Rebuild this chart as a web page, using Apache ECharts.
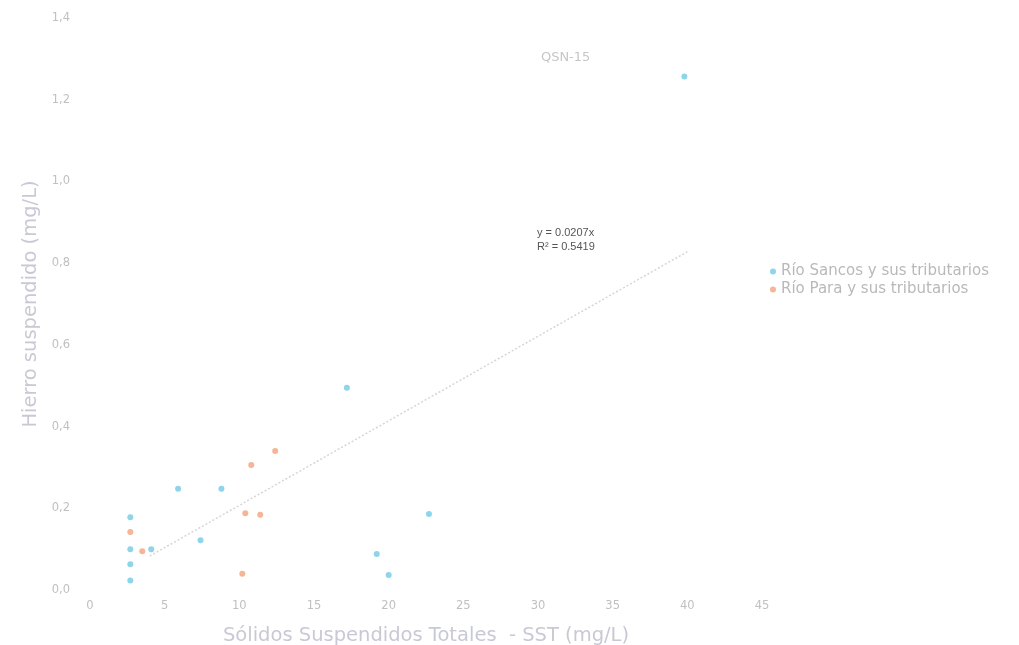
<!DOCTYPE html>
<html>
<head>
<meta charset="utf-8">
<script src="https://cdn.jsdelivr.net/npm/echarts@6/dist/echarts.min.js"></script>
<style>
html,body{margin:0;padding:0;background:#fff;}
#chart{width:1019px;height:645px;}
</style>
</head>
<body>
<div id="chart"></div>
<script>
// Río Sancos y sus tributarios
var sancosX = [2.7, 2.7, 2.7, 2.7, 4.1, 5.9, 7.4, 8.8, 17.2, 19.2, 20.0, 22.7, 39.8];
var sancosY = [0.178, 0.100, 0.063, 0.023, 0.100, 0.248, 0.122, 0.248, 0.495, 0.088, 0.037, 0.186, 1.257];
// Río Para y sus tributarios
var paraX = [2.7, 3.5, 10.2, 10.4, 10.8, 11.4, 12.4];
var paraY = [0.142, 0.095, 0.040, 0.188, 0.306, 0.184, 0.340];
// línea de tendencia y = 0.0207x
var trendX = [4, 40];
var trendY = [0.083, 0.828];
var xTicks = [0, 5, 10, 15, 20, 25, 30, 35, 40, 45];
var yTicks = [0, 0.2, 0.4, 0.6, 0.8, 1.0, 1.2, 1.4];
var labelPointName = 'QSN-15';

function pairs(xs, ys){
	var out = [];
	for (var i = 0; i < xs.length; i++) out.push([xs[i], ys[i]]);
	return out;
}

var sancosData = pairs(sancosX, sancosY);
// el punto más alto lleva su etiqueta
var last = sancosData.length - 1;
sancosData[last] = {
	value: sancosData[last],
	label: {
		show: true,
		formatter: labelPointName,
		position: 'left',
		offset: [-86, -19],
		color: '#b8b8b8',
		fontSize: 13,
		fontFamily: 'DejaVu Sans'
	}
};

var myChart = echarts.init(document.getElementById('chart'));
var option = {
	backgroundColor: '#ffffff',
	animation: false,
	textStyle: { fontFamily: 'DejaVu Sans' },
	grid: { left: 90, right: 257, top: 18, bottom: 55, containLabel: false, outerBoundsMode: 'none' },
	legend: {
		orient: 'vertical',
		left: 765,
		top: 259,
		itemWidth: 6,
		itemHeight: 6,
		itemGap: 3,
		icon: 'circle',
		textStyle: { color: '#b9b9b9', fontSize: 15, fontFamily: 'DejaVu Sans' },
		data: ['Río Sancos y sus tributarios', 'Río Para y sus tributarios']
	},
	xAxis: {
		type: 'value',
		min: xTicks[0],
		max: xTicks[xTicks.length - 1],
		interval: 5,
		name: 'Sólidos Suspendidos Totales  - SST (mg/L)',
		nameLocation: 'middle',
		nameGap: 36,
		nameTextStyle: { color: '#c9c9d6', fontSize: 19.5, fontFamily: 'DejaVu Sans' },
		axisLine: { show: false },
		axisTick: { show: false },
		splitLine: { show: false },
		axisLabel: { color: '#c0c0c0', fontSize: 11.5, margin: 10 }
	},
	yAxis: {
		type: 'value',
		min: yTicks[0],
		max: yTicks[yTicks.length - 1],
		interval: 0.2,
		name: 'Hierro suspendido (mg/L)',
		nameLocation: 'middle',
		nameGap: 49,
		nameTextStyle: { color: '#c9c9d6', fontSize: 19.5, fontFamily: 'DejaVu Sans' },
		axisLine: { show: false },
		axisTick: { show: false },
		splitLine: { show: false },
		axisLabel: {
			color: '#c0c0c0',
			fontSize: 11.5,
			margin: 20,
			formatter: function(v){ return v.toFixed(1).replace('.', ','); }
		}
	},
	graphic: [{
		type: 'text',
		left: 537,
		top: 226,
		style: {
			text: 'y = 0.0207x\nR² = 0.5419',
			fill: '#555555',
			font: '11px "Liberation Sans"',
			lineHeight: 14
		}
	}],
	series: [{
		name: 'Río Sancos y sus tributarios',
		type: 'scatter',
		symbol: 'circle',
		symbolSize: 6,
		itemStyle: { color: '#72cbe6' },
		data: sancosData,
		z: 3
	}, {
		name: 'Río Para y sus tributarios',
		type: 'scatter',
		symbol: 'circle',
		symbolSize: 6,
		itemStyle: { color: '#f3a37c' },
		data: pairs(paraX, paraY),
		z: 3
	}, {
		name: 'tendencia',
		type: 'line',
		showSymbol: false,
		symbol: 'none',
		lineStyle: { color: '#d6d6d6', width: 1.5, type: [2, 2] },
		data: pairs(trendX, trendY),
		silent: true,
		z: 2
	}]
};
if (option && typeof option === "object") {
	myChart.setOption(option, true);
}
</script>
</body>
</html>
